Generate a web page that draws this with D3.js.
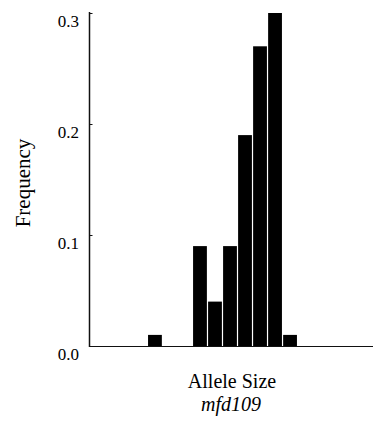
<!DOCTYPE html>
<html>
<head>
<meta charset="utf-8">
<script src="https://cdn.jsdelivr.net/npm/d3@7"></script>
</head>
<body style="margin:0">
<svg width="375" height="422"></svg>
<script>
// allele size bins (left to right) and their frequencies
const BINS = d3.range(1, 20)
const FREQS = [0, 0, 0, 0, 0.01, 0, 0, 0.09, 0.04, 0.09, 0.19, 0.27, 0.30, 0.01, 0, 0, 0, 0, 0]
const Y_TICKS = [0, 0.1, 0.2, 0.3]

const svg = d3.select('svg')
const data = BINS.map((b, i) => ({ bin: b, freq: FREQS[i] }))

const x = d3.scaleBand().domain(BINS).range([88, 372]).paddingInner(0.08)
const y = d3.scaleLinear().domain([0, 0.3]).range([346, 13])

// bars
svg.append('g')
  .selectAll('rect')
  .data(data.filter(d => d.freq > 0))
  .enter().append('rect')
  .attr('x', d => x(d.bin))
  .attr('y', d => y(d.freq))
  .attr('width', x.bandwidth())
  .attr('height', d => y(0) - y(d.freq))
  .attr('fill', '#000')

// x baseline, no ticks
svg.append('line')
  .attr('x1', 89).attr('x2', 373)
  .attr('y1', y(0) + 0.5).attr('y2', y(0) + 0.5)
  .attr('stroke', '#111').attr('stroke-width', 1.2)

// y axis
const yAxis = svg.append('g')
  .attr('transform', 'translate(89.5,0)')
  .call(d3.axisLeft(y).tickValues(Y_TICKS).tickFormat(d3.format('.1f'))
    .tickSize(-3).tickSizeOuter(0).tickPadding(10))
yAxis.select('.domain').attr('stroke', '#111').attr('stroke-width', 1.5)
  .attr('d', `M0,${y(0.3) - 1}V${y(0) + 1}`)
yAxis.selectAll('.tick line').attr('stroke', '#111')
yAxis.selectAll('.tick text').remove()

// tick labels drawn as plain text so the serif face sticks
svg.append('g')
  .selectAll('text')
  .data(Y_TICKS)
  .enter().append('text')
  .attr('x', 79)
  .attr('y', d => y(d) + 14)
  .attr('text-anchor', 'end')
  .attr('font-size', 17)
  .style('font-family', '"Liberation Serif"')
  .text(d3.format('.1f'))

// axis titles
svg.append('text')
  .attr('transform', 'translate(30,183) rotate(-90)')
  .attr('text-anchor', 'middle')
  .attr('font-size', 21)
  .style('font-family', '"Liberation Serif"')
  .text('Frequency')

svg.append('text')
  .attr('x', 232).attr('y', 388)
  .attr('text-anchor', 'middle')
  .attr('font-size', 20)
  .style('font-family', '"Liberation Serif"')
  .text('Allele Size')

svg.append('text')
  .attr('x', 231).attr('y', 411)
  .attr('text-anchor', 'middle')
  .attr('font-size', 20)
  .attr('font-style', 'italic')
  .style('font-family', '"Liberation Serif"')
  .text('mfd109')
</script>
</body>
</html>
